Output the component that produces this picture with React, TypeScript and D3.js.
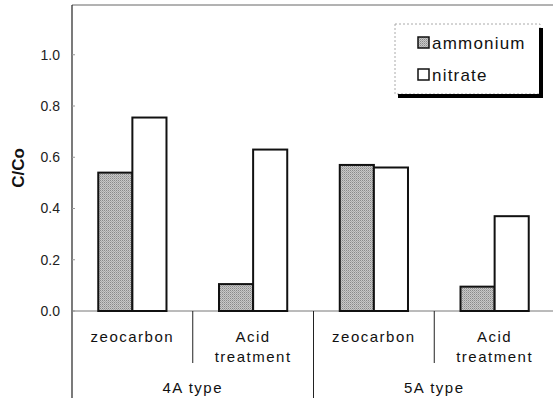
import { useEffect, useRef } from 'react';
import * as d3 from 'd3';

const categories = ['zeo4', 'acid4', 'zeo5', 'acid5'];
const categoryLines = [['zeocarbon'], ['Acid', 'treatment'], ['zeocarbon'], ['Acid', 'treatment']];
const groups = ['4A type', '5A type'];
const seriesNames = ['ammonium', 'nitrate'];
const ammonium = [0.54, 0.105, 0.57, 0.095];
const nitrate = [0.755, 0.63, 0.56, 0.37];
const yTicks = [0, 0.2, 0.4, 0.6, 0.8, 1.0];

export default function App() {
  const ref = useRef<SVGSVGElement>(null);

  useEffect(() => {
    if (!ref.current) return;
    const svg = d3.select(ref.current);
    svg.selectAll('*').remove();

    const font = '"Liberation Sans", Arial, sans-serif';
    const left = 72;
    const right = 555;
    const bottom = 311;

    const y = d3.scaleLinear().domain([0, 1.2]).range([bottom, 3.5]);
    const x0 = d3.scaleBand<string>().domain(categories).range([left, right]).paddingInner(0);
    const x1 = d3
      .scaleBand<string>()
      .domain(seriesNames)
      .range([0, x0.bandwidth()])
      .paddingInner(0)
      .paddingOuter(0.77);

    // stipple fill
    const defs = svg.append('defs');
    const pat = defs
      .append('pattern')
      .attr('id', 'stip')
      .attr('width', 2)
      .attr('height', 2)
      .attr('patternUnits', 'userSpaceOnUse');
    pat.append('rect').attr('width', 2).attr('height', 2).attr('fill', '#c8c8c8');
    pat.append('rect').attr('width', 1).attr('height', 1).attr('fill', '#8a8a8a');
    pat.append('rect').attr('x', 1).attr('y', 1).attr('width', 1).attr('height', 1).attr('fill', '#a8a8a8');

    // frame top line
    svg.append('line')
      .attr('x1', left).attr('x2', 553)
      .attr('y1', 5).attr('y2', 5)
      .attr('stroke', '#666').attr('stroke-width', 1);

    // baseline
    svg.append('line')
      .attr('x1', left).attr('x2', 553)
      .attr('y1', y(0)).attr('y2', y(0))
      .attr('stroke', '#777').attr('stroke-width', 1);

    // y axis line, extends down for group separator
    svg.append('line')
      .attr('x1', left).attr('x2', left)
      .attr('y1', 5).attr('y2', 398)
      .attr('stroke', '#222').attr('stroke-width', 1.2);

    // ticks + labels
    yTicks.forEach((t) => {
      svg.append('line')
        .attr('x1', left).attr('x2', left + 3)
        .attr('y1', y(t)).attr('y2', y(t))
        .attr('stroke', '#999').attr('stroke-width', 1);
      svg.append('text')
        .attr('x', 60)
        .attr('y', y(t))
        .attr('dy', '0.35em')
        .attr('text-anchor', 'end')
        .attr('font-family', font)
        .attr('font-size', 14)
        .attr('fill', '#222')
        .text(t.toFixed(1));
    });

    // y label
    svg.append('text')
      .attr('transform', `translate(24, 168) rotate(-90)`)
      .attr('text-anchor', 'middle')
      .attr('font-family', font)
      .attr('font-size', 17)
      .attr('font-weight', 'bold')
      .attr('fill', '#111')
      .text('C/Co');

    // bars
    categories.forEach((c, i) => {
      const vals = [ammonium[i], nitrate[i]];
      vals.forEach((v, j) => {
        svg.append('rect')
          .attr('x', x0(c)! + x1(seriesNames[j])!)
          .attr('y', y(v))
          .attr('width', x1.bandwidth())
          .attr('height', y(0) - y(v))
          .attr('fill', j === 0 ? 'url(#stip)' : '#fff')
          .attr('stroke', '#111')
          .attr('stroke-width', 2);
      });
    });

    // category separators and labels
    categories.forEach((c, i) => {
      if (i > 0) {
        const xx = x0(c)!;
        svg.append('line')
          .attr('x1', xx).attr('x2', xx)
          .attr('y1', bottom).attr('y2', i === 2 ? 398 : 363)
          .attr('stroke', '#222').attr('stroke-width', 1);
      }
      const cx = x0(c)! + x0.bandwidth() / 2;
      categoryLines[i].forEach((line, k) => {
        svg.append('text')
          .attr('x', cx)
          .attr('y', 342 + k * 20)
          .attr('text-anchor', 'middle')
          .attr('font-family', font)
          .attr('font-size', 15)
          .attr('letter-spacing', 1.5)
          .attr('fill', '#111')
          .text(line);
      });
    });

    // group labels
    groups.forEach((g, i) => {
      const a = x0(categories[i * 2])!;
      const b = x0(categories[i * 2 + 1])! + x0.bandwidth();
      svg.append('text')
        .attr('x', (a + b) / 2)
        .attr('y', 393)
        .attr('text-anchor', 'middle')
        .attr('font-family', font)
        .attr('font-size', 15)
        .attr('letter-spacing', 1.5)
        .attr('fill', '#111')
        .text(g);
    });

    // legend
    const lg = svg.append('g').attr('transform', 'translate(395,24)');
    lg.append('rect')
      .attr('width', 145).attr('height', 70)
      .attr('fill', '#fff')
      .attr('stroke', '#aaa')
      .attr('stroke-width', 1)
      .attr('stroke-dasharray', '2,2');
    lg.append('line')
      .attr('x1', 146).attr('x2', 146).attr('y1', 4).attr('y2', 73)
      .attr('stroke', '#000').attr('stroke-width', 4);
    lg.append('line')
      .attr('x1', 3).attr('x2', 148).attr('y1', 72).attr('y2', 72)
      .attr('stroke', '#000').attr('stroke-width', 4);

    seriesNames.forEach((s, i) => {
      const row = lg.append('g').attr('transform', `translate(23, ${19 + i * 32})`);
      row.append('rect')
        .attr('x', 0).attr('y', -6)
        .attr('width', 11).attr('height', 11)
        .attr('fill', i === 0 ? 'url(#stip)' : '#fff')
        .attr('stroke', '#111')
        .attr('stroke-width', 1.5);
      row.append('text')
        .attr('x', 14)
        .attr('y', 0)
        .attr('dy', '0.35em')
        .attr('font-family', font)
        .attr('font-size', 17)
        .attr('letter-spacing', 1.2)
        .attr('fill', '#111')
        .text(s);
    });
  }, []);

  return (
    <svg
      ref={ref}
      width={553}
      height={406}
      style={{ position: 'absolute', left: 0, top: 0, background: '#fff' }}
    />
  );
}
